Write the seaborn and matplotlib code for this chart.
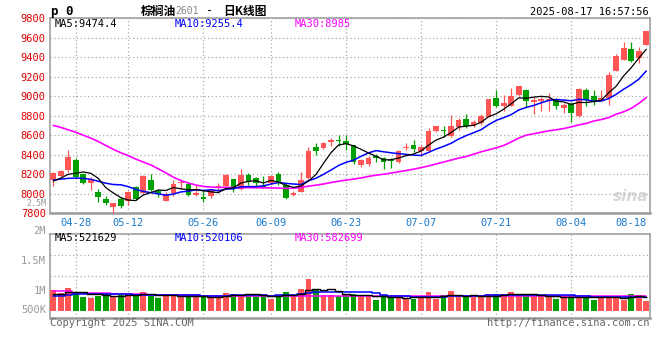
import numpy as np
import pandas as pd
import matplotlib
matplotlib.use("Agg")
import matplotlib.pyplot as plt
import seaborn as sns

# trading days shown (04-23 .. 08-18)
dates = ["04-23", "04-24", "04-25", "04-28", "04-29", "04-30",
         "05-06", "05-07", "05-08", "05-09",
         "05-12", "05-13", "05-14", "05-15", "05-16",
         "05-19", "05-20", "05-21", "05-22", "05-23",
         "05-26", "05-27", "05-28", "05-29", "05-30",
         "06-03", "06-04", "06-05", "06-06",
         "06-09", "06-10", "06-11", "06-12", "06-13",
         "06-16", "06-17", "06-18", "06-19", "06-20",
         "06-23", "06-24", "06-25", "06-26", "06-27", "06-30",
         "07-01", "07-02", "07-03", "07-04",
         "07-07", "07-08", "07-09", "07-10", "07-11",
         "07-14", "07-15", "07-16", "07-17", "07-18",
         "07-21", "07-22", "07-23", "07-24", "07-25",
         "07-28", "07-29", "07-30", "07-31", "08-01",
         "08-04", "08-05", "08-06", "08-07", "08-08",
         "08-11", "08-12", "08-13", "08-14", "08-15", "08-18"]

opens = [8141, 8186, 8244, 8347, 8205, 8114, 8022, 7946, 7865, 7948,
         7922, 8073, 8005, 8141, 8029, 7930, 8012, 8112, 8100, 7987,
         7970, 7977, 8070, 8080, 8148, 8046, 8193, 8159, 8083, 8107,
         8200, 8090, 7990, 8022, 8165, 8484, 8473, 8535, 8548, 8542,
         8501, 8295, 8300, 8391, 8367, 8347, 8330, 8468, 8501, 8443,
         8443, 8638, 8655, 8593, 8679, 8764, 8696, 8723, 8791, 8980,
         8901, 8903, 9013, 9065, 8935, 8952, 8958, 8962, 8877, 8920,
         8798, 9065, 9003, 8962, 8979, 9253, 9373, 9482, 9390, 9520]
highs = [8227, 8244, 8449, 8364, 8217, 8169, 8050, 7975, 7905, 7970,
         8029, 8080, 8193, 8203, 8049, 8015, 8141, 8148, 8107, 8090,
         8039, 8049, 8107, 8203, 8155, 8254, 8217, 8176, 8183, 8183,
         8227, 8114, 8030, 8227, 8484, 8518, 8535, 8576, 8603, 8600,
         8501, 8354, 8390, 8405, 8381, 8364, 8449, 8518, 8552, 8501,
         8672, 8699, 8696, 8802, 8775, 8819, 8751, 8819, 8975, 9065,
         9014, 9080, 9106, 9075, 8986, 8990, 9037, 8976, 8928, 8940,
         9082, 9082, 9058, 9065, 9243, 9431, 9550, 9550, 9499, 9670]
lows = [8083, 8176, 8227, 8158, 8100, 8039, 7919, 7880, 7805, 7855,
        7885, 7940, 7995, 8029, 7970, 7926, 7977, 8049, 7977, 7977,
        7919, 7960, 8012, 8073, 8022, 8039, 8090, 8056, 8056, 8100,
        8090, 7943, 7975, 8022, 8152, 8398, 8456, 8494, 8490, 8452,
        8302, 8271, 8285, 8330, 8250, 8261, 8313, 8445, 8432, 8398,
        8432, 8631, 8586, 8586, 8655, 8672, 8679, 8706, 8785, 8890,
        8850, 8894, 9000, 8884, 8822, 8843, 8850, 8867, 8832, 8740,
        8791, 8901, 8911, 8945, 8911, 9253, 9366, 9349, 9338, 9520]
closes = [8214, 8234, 8380, 8175, 8114, 8148, 7970, 7905, 7905, 7875,
          8022, 7946, 8186, 8039, 7998, 8000, 8097, 8120, 7987, 8008,
          7946, 8039, 8080, 8193, 8046, 8193, 8124, 8114, 8073, 8183,
          8107, 7953, 8012, 8141, 8440, 8442, 8525, 8552, 8540, 8507,
          8330, 8347, 8364, 8371, 8323, 8337, 8436, 8482, 8458, 8474,
          8645, 8689, 8638, 8689, 8751, 8696, 8730, 8798, 8971, 8901,
          8930, 9004, 9106, 8950, 8958, 8970, 8970, 8894, 8911, 8832,
          9072, 8962, 8945, 8979, 9219, 9407, 9492, 9362, 9465, 9670]
volumes = [792, 688, 896, 688, 545, 506, 584, 649, 558, 623,
           584, 662, 740, 558, 506, 623, 623, 558, 558, 558,
           532, 558, 558, 701, 662, 623, 623, 558, 623, 467,
           623, 740, 558, 857, 1246, 818, 623, 623, 558, 623,
           662, 558, 623, 428, 558, 558, 532, 493, 467, 558,
           714, 467, 623, 753, 558, 532, 532, 558, 662, 662,
           662, 714, 623, 662, 558, 558, 532, 467, 558, 597,
           532, 532, 428, 532, 558, 532, 428, 662, 597, 389]  # thousands

# moving averages whose history lies left of the window
ma5_head = [8130, 8160, 8200, 8210]
ma10_head = [8141, 8150, 8158, 8160, 8158, 8148, 8128, 8108, 8095]
ma30 = [8700, 8680, 8655, 8630, 8600, 8570, 8535, 8495, 8455, 8420,
        8390, 8355, 8325, 8295, 8255, 8215, 8170, 8135, 8110, 8090,
        8075, 8068, 8066, 8065, 8064, 8063, 8062, 8062, 8061, 8060,
        8058, 8055, 8056, 8066, 8078, 8088, 8100, 8115, 8128, 8140,
        8150, 8162, 8178, 8190, 8200, 8212, 8225, 8238, 8252, 8268,
        8285, 8305, 8325, 8345, 8365, 8382, 8405, 8430, 8450, 8470,
        8495, 8530, 8570, 8600, 8615, 8630, 8645, 8655, 8668, 8685,
        8705, 8720, 8745, 8760, 8780, 8815, 8840, 8875, 8925, 8985]
vol_ma5_head = [649, 649, 714, 714]
vol_ma10_head = [558, 584, 623, 649, 649, 649, 640, 645, 650]
vol_ma30 = [779, 779, 779, 690, 688, 688, 688, 686, 640, 638,
            636, 636, 636, 600, 598, 597, 597, 597, 597, 596,
            586, 585, 584, 584, 584, 584, 584, 584, 584, 584,
            584, 584, 584, 584, 586, 586, 585, 584, 582, 582,
            581, 580, 580, 580, 580, 579, 579, 579, 578, 578,
            578, 578, 578, 578, 578, 577, 577, 577, 577, 577,
            577, 577, 577, 577, 577, 576, 576, 576, 576, 576,
            578, 578, 578, 578, 578, 578, 560, 560, 575, 583]

tick_dates = ["04-28", "05-12", "05-26", "06-09", "06-23", "07-07", "07-21", "08-04", "08-18"]

RED = "#ff5555"
GREEN = "#00a000"
GRID = "#aaaaaa"
MONO = "DejaVu Sans Mono"

sns.set_style("white")
plt.rcParams["font.family"] = [MONO, "Noto Sans CJK SC"]

df = pd.DataFrame({"date": dates, "open": opens, "high": highs, "low": lows,
                   "close": closes, "volume": np.array(volumes) * 1000})
df["x"] = np.arange(len(df))
df["up"] = df["close"] >= df["open"]
df["color"] = np.where(df["up"], RED, GREEN)

ma5 = df["close"].rolling(5).mean()
ma5.iloc[:4] = ma5_head
ma10 = df["close"].rolling(10).mean()
ma10.iloc[:9] = ma10_head
vma5 = df["volume"].rolling(5).mean()
vma5.iloc[:4] = np.array(vol_ma5_head) * 1000
vma10 = df["volume"].rolling(10).mean()
vma10.iloc[:9] = np.array(vol_ma10_head) * 1000
vma30 = pd.Series(np.array(vol_ma30) * 1000)

fig = plt.figure(figsize=(6.6, 3.6), dpi=100)
fig.patch.set_facecolor("white")
ax = fig.add_axes([0.0758, 0.4075, 0.9083, 0.5425])
axv = fig.add_axes([0.0758, 0.118, 0.9083, 0.2311])

tick_idx = [dates.index(d) for d in tick_dates]
xlim = (-0.43, len(dates) - 0.57)

# ---- price panel
body_w = 0.76
ax.vlines(df["x"], df["low"], df["high"], colors=df["color"], lw=0.9, zorder=3)
body_lo = np.minimum(df["open"], df["close"])
body_h = np.maximum((df["close"] - df["open"]).abs(), 10)
ax.bar(df["x"], body_h, bottom=body_lo, width=body_w, color=df["color"], lw=0, zorder=4)

sns.lineplot(x=df["x"], y=ma30, ax=ax, color="#ff00ff", lw=1.2, estimator=None, zorder=5)
sns.lineplot(x=df["x"], y=ma10, ax=ax, color="#0000ff", lw=1.1, estimator=None, zorder=6)
sns.lineplot(x=df["x"], y=ma5, ax=ax, color="black", lw=0.9, estimator=None, zorder=7)

ax.set_xlim(xlim)
ax.set_ylim(7800, 9800)
ax.set_yticks(range(7800, 9801, 200))
ax.set_xticks(tick_idx)
ax.set_xticklabels(tick_dates)
ax.get_xticklabels()[-1].set_horizontalalignment("right")
ax.tick_params(axis="y", length=0, pad=3, labelcolor="#dd0000", labelsize=7.5)
ax.tick_params(axis="x", length=0, pad=3.5, labelcolor="#1a7acc", labelsize=7.5)
ax.set_xlabel("")
ax.set_ylabel("")
ax.yaxis.grid(True, linestyle=(0, (1, 2)), color=GRID, lw=0.9)
for i in tick_idx[:-1]:
    ax.axvline(i, linestyle=(0, (1, 2)), color=GRID, lw=0.9, zorder=1)

ax.text(0.008, 0.969, "MA5:9474.4", transform=ax.transAxes, color="black", fontsize=7.5, va="center")
ax.text(0.2085, 0.969, "MA10:9255.4", transform=ax.transAxes, color="#0000ff", fontsize=7.5, va="center")
ax.text(0.4087, 0.969, "MA30:8985", transform=ax.transAxes, color="#ff00ff", fontsize=7.5, va="center")
ax.text(0.998, 0.085, "sina", transform=ax.transAxes, ha="right", va="center", color="#d8d8d8",
        fontsize=11, fontstyle="italic", fontweight="bold", family="DejaVu Sans", zorder=0)

# ---- volume panel
axv.bar(df["x"], df["volume"], width=body_w, color=df["color"], lw=0, zorder=3)
sns.lineplot(x=df["x"], y=vma30, ax=axv, color="#ff00ff", lw=1.1, estimator=None, drawstyle="steps-mid", zorder=4)
sns.lineplot(x=df["x"], y=vma10, ax=axv, color="#0000ff", lw=1.1, estimator=None, drawstyle="steps-mid", zorder=5)
sns.lineplot(x=df["x"], y=vma5, ax=axv, color="black", lw=1.0, estimator=None, drawstyle="steps-mid", zorder=6)

vlo, vhi = -270000, 2990000
axv.set_xlim(xlim)
axv.set_ylim(vlo, vhi)
axv.set_yticks(np.linspace(vlo, vhi, 5)[1:4])
axv.set_yticklabels([])
axv.set_xticks([])
axv.set_xlabel("")
axv.set_ylabel("")
axv.tick_params(length=0)
axv.yaxis.grid(True, linestyle=(0, (1, 2)), color=GRID, lw=0.9)
for i in tick_idx[:-1]:
    axv.axvline(i, linestyle=(0, (1, 2)), color=GRID, lw=0.9, zorder=1)

for lab, fy in [("2M", 1.04), ("1.5M", 0.68), ("1M", 0.32), ("500K", 0.09)]:
    axv.text(-0.0068, fy, lab, transform=axv.transAxes, ha="right", va="center",
             color="#999999", fontsize=7.5, clip_on=False)
# stray volume label that Sina draws between the 8000 and 7800 price labels
axv.text(-0.0068, 1.375, "2.5M", transform=axv.transAxes, ha="right", va="center",
         color="#999999", fontsize=6, clip_on=False)

axv.text(0.008, 0.952, "MA5:521629", transform=axv.transAxes, color="black", fontsize=7.5, va="center")
axv.text(0.2085, 0.952, "MA10:520106", transform=axv.transAxes, color="#0000ff", fontsize=7.5, va="center")
axv.text(0.4087, 0.952, "MA30:582699", transform=axv.transAxes, color="#ff00ff", fontsize=7.5, va="center")

for a in (ax, axv):
    for s in a.spines.values():
        s.set_color("#999999")
        s.set_linewidth(1.1)
    a.spines["bottom"].set_linewidth(1.8)
axv.spines["top"].set_linestyle((0, (1, 1)))

# ---- header / footer text
fig.text(51 / 660, 1 - 11 / 360, "p 0", fontsize=9, fontweight="bold", va="center", color="black")
fig.text(141 / 660, 1 - 11 / 360, "棕榈油", fontsize=8.5, fontweight="bold", va="center",
         family="Noto Sans CJK SC", color="black")
fig.text(175 / 660, 1 - 11.5 / 360, "2601", fontsize=7, va="center", color="#888888")
fig.text(206 / 660, 1 - 11 / 360, "-", fontsize=8.5, va="center", color="black")
fig.text(223 / 660, 1 - 11 / 360, "日K线图", fontsize=8.5, fontweight="bold", va="center",
         family="Noto Sans CJK SC", color="black")
fig.text(649 / 660, 1 - 12 / 360, "2025-08-17 16:57:56", fontsize=7.5, ha="right", va="center", color="black")
fig.text(50 / 660, 1 - 323 / 360, "Copyright 2025 SINA.COM", fontsize=7.5, va="center", color="#666666")
fig.text(649 / 660, 1 - 323 / 360, "http://finance.sina.com.cn", fontsize=7.5, ha="right", va="center",
         color="#666666")

fig.savefig("out.png", dpi=100)
